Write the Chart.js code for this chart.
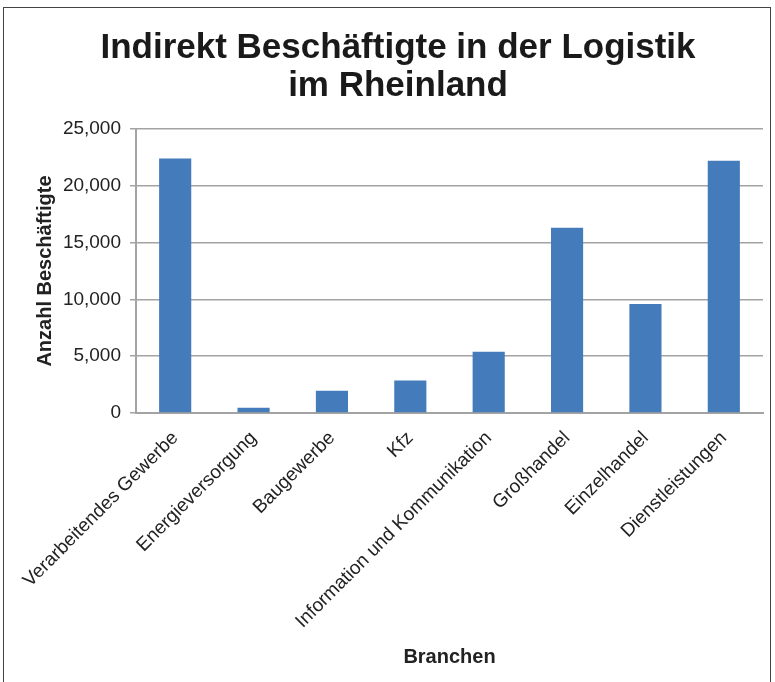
<!DOCTYPE html>
<html>
<head>
<meta charset="utf-8">
<style>
    html, body { margin: 0; padding: 0; background: #fff; }
    #wrap { position: relative; width: 775px; height: 682px; overflow: hidden; }
    #frame { position: absolute; left: 3px; top: 7px; width: 766px; height: 700px; border: 1px solid #444; }
    canvas { position: absolute; left: 0; top: 0; }
</style>
</head>
<body>
<div id="wrap">
    <div id="frame"></div>
    <canvas id="barChart" width="775" height="682"></canvas>
</div>
<script src="https://cdn.jsdelivr.net/npm/chart.js@4/dist/chart.umd.min.js"></script>
<script>
    // Branchen
    var branchen = ["Verarbeitendes Gewerbe", "Energieversorgung", "Baugewerbe", "Kfz",
        "Information und Kommunikation", "Großhandel", "Einzelhandel", "Dienstleistungen"];
    // Anzahl Beschäftigte
    var beschaeftigte = [22400, 470, 1960, 2850, 5400, 16300, 9600, 22200];
    var yTicks = [0, 5000, 10000, 15000, 20000, 25000];

    var fontFam = '"Liberation Sans", Arial, sans-serif';
    var gridColor = '#a3a3a3';

    var barData = {
        labels: branchen,
        datasets: [{
            label: "Anzahl Beschäftigte",
            backgroundColor: '#447bbb',
            borderWidth: 0,
            categoryPercentage: 1.0,
            barPercentage: 0.41,
            data: beschaeftigte
        }]
    };

    var barOptions = {
        responsive: false,
        animation: false,
        layout: { padding: { left: 33, right: 12, top: 0, bottom: 10 } },
        plugins: {
            legend: { display: false },
            tooltip: { enabled: false },
            title: {
                display: true,
                text: ["Indirekt Beschäftigte in der Logistik", "im Rheinland"],
                color: '#1a1a1a',
                font: { family: fontFam, size: 35, weight: 'bold', lineHeight: 1.1 },
                padding: { top: 29, bottom: 23 }
            }
        },
        scales: {
            x: {
                grid: { display: false },
                border: { display: true, color: gridColor, width: 2 },
                ticks: {
                    color: '#222',
                    font: { family: fontFam, size: 19 },
                    minRotation: 45,
                    maxRotation: 45,
                    autoSkip: false,
                    padding: 6
                },
                title: {
                    display: true,
                    text: "Branchen",
                    color: '#222',
                    font: { family: fontFam, size: 20, weight: 'bold' },
                    padding: { top: 4, bottom: 3 }
                },
                afterFit: function (scale) { scale.height = 259; }
            },
            y: {
                min: 0,
                max: 25000,
                afterBuildTicks: function (scale) {
                    scale.ticks = yTicks.map(function (v) { return { value: v }; });
                },
                grid: { color: gridColor, lineWidth: 1.5, tickLength: 6, drawTicks: true },
                border: { display: true, color: gridColor, width: 2 },
                ticks: {
                    color: '#222',
                    font: { family: fontFam, size: 19 },
                    padding: 9,
                    callback: function (v) { return v.toLocaleString('en-US'); }
                },
                title: {
                    display: true,
                    text: "Anzahl Beschäftigte",
                    color: '#222',
                    font: { family: fontFam, size: 20, weight: 'bold' },
                    padding: { top: 0, bottom: 4 }
                },
                afterFit: function (scale) { scale.width = 103; }
            }
        }
    };

    var ctx = document.getElementById("barChart").getContext("2d");
    new Chart(ctx, { type: 'bar', data: barData, options: barOptions });
</script>
</body>
</html>
